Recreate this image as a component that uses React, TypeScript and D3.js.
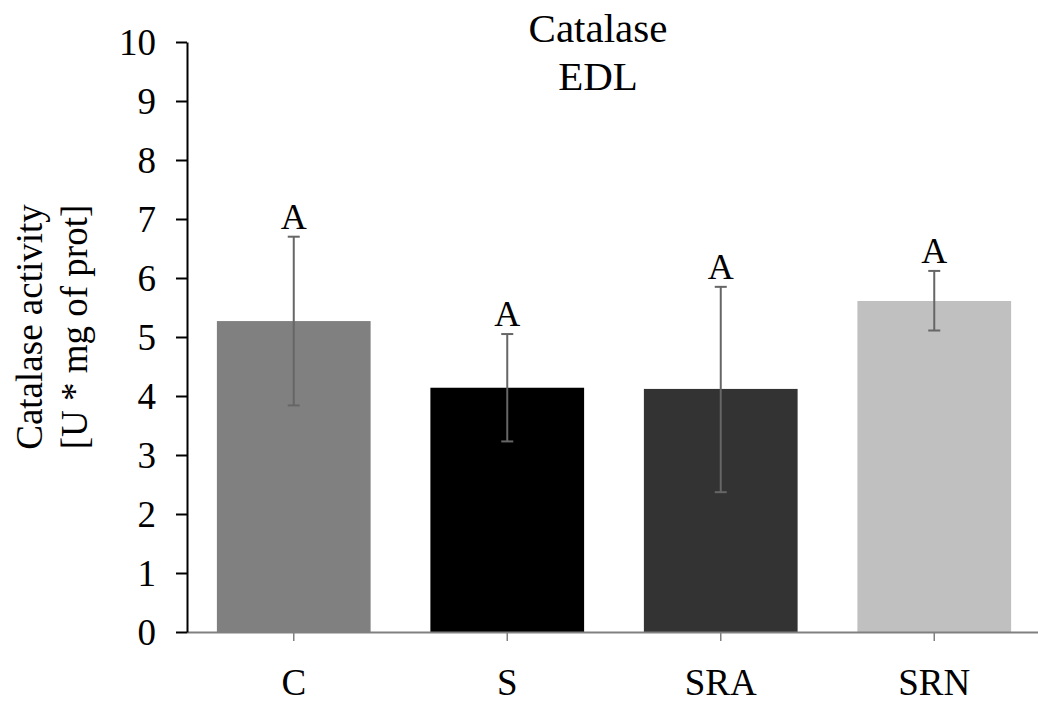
import { useEffect, useRef } from "react";
import * as d3 from "d3";

const groups = ["C", "S", "SRA", "SRN"];
const means = [5.27, 4.14, 4.12, 5.61];
const errLow = [3.84, 3.23, 2.37, 5.11];
const errHigh = [6.7, 5.05, 5.85, 6.12];
const letters = ["A", "A", "A", "A"];
const colors = ["#808080", "#000000", "#333333", "#c0c0c0"];
const yTicks = [0, 1, 2, 3, 4, 5, 6, 7, 8, 9, 10];

const FONT = "'Liberation Serif', 'Times New Roman', serif";

export default function App() {
  const svgRef = useRef<SVGSVGElement | null>(null);

  useEffect(() => {
    const width = 1038;
    const height = 703;
    const margin = { top: 42, left: 187, bottom: 71 };

    const svg = d3.select(svgRef.current);
    svg.selectAll("*").remove();

    const y = d3
      .scaleLinear()
      .domain([0, 10])
      .range([height - margin.bottom, margin.top]);

    const x = d3
      .scaleBand<string>()
      .domain(groups)
      .range([margin.left, margin.left + 854])
      .paddingInner(0.28)
      .paddingOuter(0.14);

    // bars
    svg
      .append("g")
      .selectAll("rect")
      .data(groups)
      .join("rect")
      .attr("x", (d) => x(d)!)
      .attr("width", x.bandwidth())
      .attr("y", (_, i) => y(means[i]))
      .attr("height", (_, i) => y(0) - y(means[i]))
      .attr("fill", (_, i) => colors[i]);

    // x axis (gray, runs to the edge)
    svg
      .append("line")
      .attr("x1", margin.left)
      .attr("x2", width)
      .attr("y1", y(0) + 0.5)
      .attr("y2", y(0) + 0.5)
      .attr("stroke", "#808080")
      .attr("stroke-width", 2);

    const xg = svg.append("g").attr("font-family", FONT);
    groups.forEach((g) => {
      const cx = x(g)! + x.bandwidth() / 2;
      xg.append("line")
        .attr("x1", cx)
        .attr("x2", cx)
        .attr("y1", y(0))
        .attr("y2", y(0) + 9)
        .attr("stroke", "#808080")
        .attr("stroke-width", 1.5);
      xg.append("text")
        .attr("x", cx)
        .attr("y", 695)
        .attr("text-anchor", "middle")
        .attr("font-size", 37)
        .text(g);
    });

    // error bars + letters
    const eg = svg.append("g");
    groups.forEach((g, i) => {
      const cx = x(g)! + x.bandwidth() / 2;
      eg.append("line")
        .attr("x1", cx)
        .attr("x2", cx)
        .attr("y1", y(errLow[i]))
        .attr("y2", y(errHigh[i]))
        .attr("stroke", "#666")
        .attr("stroke-width", 2);
      [errLow[i], errHigh[i]].forEach((v) => {
        eg.append("line")
          .attr("x1", cx - 6)
          .attr("x2", cx + 6)
          .attr("y1", y(v))
          .attr("y2", y(v))
          .attr("stroke", "#666")
          .attr("stroke-width", 2);
      });
      eg.append("text")
        .attr("x", cx)
        .attr("y", y(errHigh[i]) - 8)
        .attr("text-anchor", "middle")
        .attr("font-family", FONT)
        .attr("font-size", 36)
        .text(letters[i]);
    });

    // y axis
    const yAxis = svg
      .append("g")
      .attr("transform", `translate(${margin.left},0)`)
      .call(d3.axisLeft(y).tickValues(yTicks).tickSize(11).tickPadding(20).tickSizeOuter(0));
    yAxis.select(".domain").attr("stroke", "#000").attr("stroke-width", 2);
    yAxis.selectAll(".tick line").attr("stroke", "#000").attr("stroke-width", 2);
    yAxis
      .selectAll(".tick text")
      .attr("font-family", FONT)
      .attr("font-size", 37)
      .attr("fill", "#000")
      .attr("dy", "0.34em");

    // y title
    const yt = svg
      .append("text")
      .attr("transform", `translate(42,${(y(0) + y(10)) / 2 - 10}) rotate(-90)`)
      .attr("text-anchor", "middle")
      .attr("font-family", FONT)
      .attr("font-size", 37);
    yt.append("tspan").attr("x", 0).attr("y", 0).text("Catalase activity");
    yt.append("tspan").attr("x", 0).attr("y", 45).text("[U * mg of prot]");

    // chart title
    const tt = svg
      .append("text")
      .attr("text-anchor", "middle")
      .attr("font-family", FONT)
      .attr("font-size", 41);
    tt.append("tspan").attr("x", 598).attr("y", 42).text("Catalase");
    tt.append("tspan").attr("x", 598).attr("y", 90).text("EDL");
  }, []);

  return (
    <svg
      ref={svgRef}
      width={1038}
      height={703}
      style={{ position: "absolute", left: 0, top: 0, background: "#fff" }}
    />
  );
}
